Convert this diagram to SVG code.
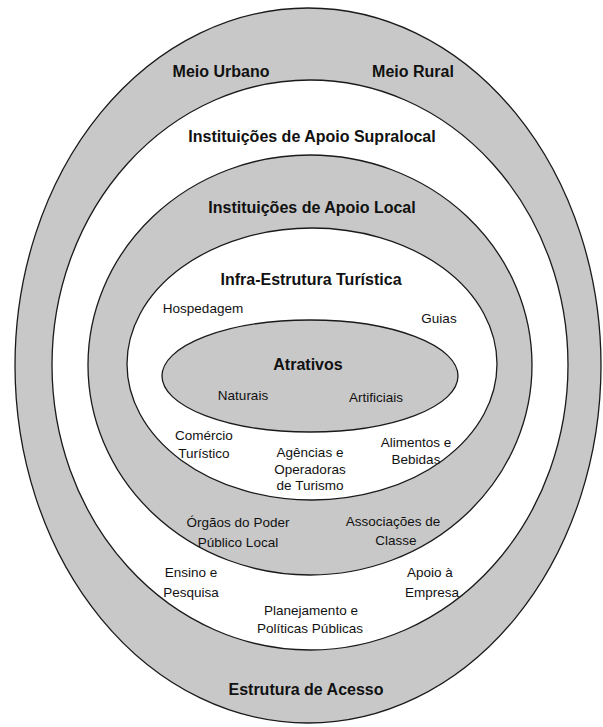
<svg xmlns="http://www.w3.org/2000/svg" width="603" height="727" viewBox="0 0 603 727">
<style>
.ring{stroke:#1a1a1a;stroke-width:1.3}
.g{fill:#c8c8c8}
.w{fill:#ffffff}
text{font-family:"Liberation Sans",Arial,sans-serif;fill:#111;text-anchor:middle}
.b{font-weight:bold;font-size:16px}
.r{font-size:13.5px}
</style>
<rect width="603" height="727" fill="#ffffff"/>
<g id="estrutura-acesso">
<ellipse class="ring g" cx="308" cy="365.5" rx="293" ry="357.5"/>
<text class="b" x="221" y="77">Meio Urbano</text>
<text class="b" x="413" y="77">Meio Rural</text>
<text class="b" x="306" y="695">Estrutura de Acesso</text>
</g>
<g id="apoio-supralocal">
<ellipse class="ring w" cx="310" cy="365" rx="258" ry="285"/>
<text class="b" x="312" y="142">Instituições de Apoio Supralocal</text>
<text class="r" x="191" y="577">Ensino e</text>
<text class="r" x="191" y="597">Pesquisa</text>
<text class="r" x="430" y="577">Apoio à</text>
<text class="r" x="432" y="597">Empresa</text>
<text class="r" x="311" y="615">Planejamento e</text>
<text class="r" x="310" y="633">Políticas Públicas</text>
</g>
<g id="apoio-local">
<ellipse class="ring g" cx="310" cy="365" rx="222" ry="210"/>
<text class="b" x="312" y="213">Instituições de Apoio Local</text>
<text class="r" x="238" y="527">Órgãos do Poder</text>
<text class="r" x="238" y="547">Público Local</text>
<text class="r" x="393" y="526">Associações de</text>
<text class="r" x="396" y="545">Classe</text>
</g>
<g id="infra-estrutura">
<ellipse class="ring w" cx="312" cy="364" rx="185" ry="136"/>
<text class="b" x="311" y="285">Infra-Estrutura Turística</text>
<text class="r" x="203" y="313">Hospedagem</text>
<text class="r" x="439" y="323">Guias</text>
<text class="r" x="204" y="440">Comércio</text>
<text class="r" x="204" y="458">Turístico</text>
<text class="r" x="310" y="457">Agências e</text>
<text class="r" x="310" y="474">Operadoras</text>
<text class="r" x="310" y="490">de Turismo</text>
<text class="r" x="416" y="447">Alimentos e</text>
<text class="r" x="416" y="464">Bebidas</text>
</g>
<g id="atrativos">
<ellipse class="ring g" cx="310" cy="376" rx="148" ry="56"/>
<text class="b" x="308" y="370">Atrativos</text>
<text class="r" x="243" y="400">Naturais</text>
<text class="r" x="376" y="402">Artificiais</text>
</g>
<g id="connectors"/>
</svg>
